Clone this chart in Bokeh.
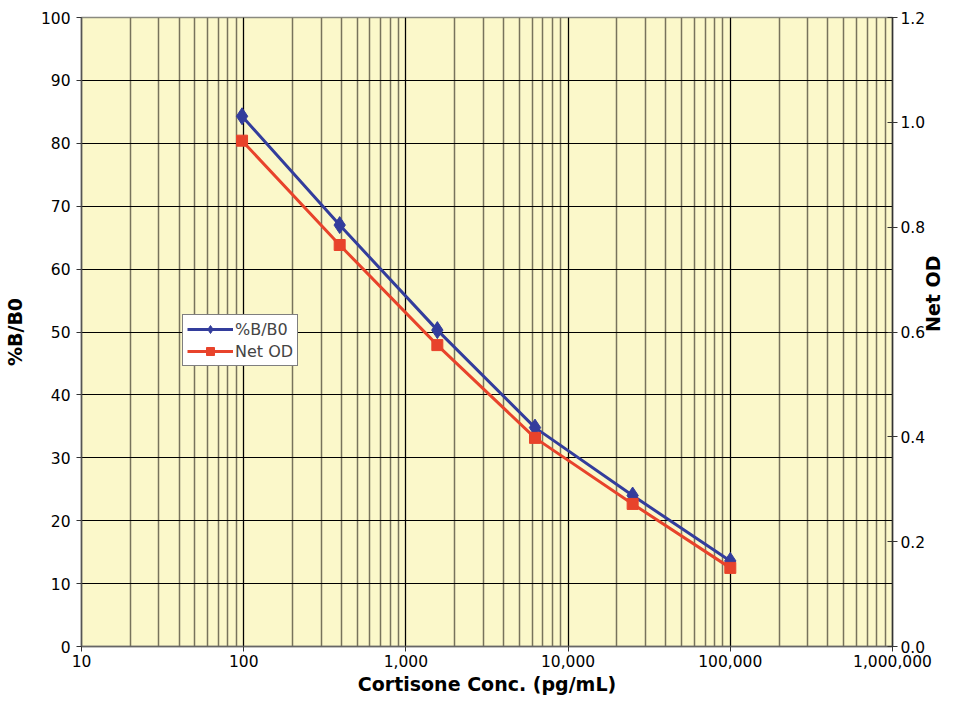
import math
from bokeh.plotting import figure
from bokeh.models import Range1d, LinearAxis, FixedTicker, NumeralTickFormatter, LogTicker, Legend, LegendItem
from bokeh.embed import file_html
from bokeh.resources import INLINE

# Data
conc = [97.7, 390.6, 1562.5, 6250, 25000, 100000]
pct_b_b0 = [84.3, 67.0, 50.3, 34.8, 24.0, 13.6]
net_od = [0.965, 0.766, 0.575, 0.398, 0.272, 0.150]

left_ticks = [0, 10, 20, 30, 40, 50, 60, 70, 80, 90, 100]
right_ticks = [0.0, 0.2, 0.4, 0.6, 0.8, 1.0, 1.2]

FONT = "DejaVu Sans"
BLUE = "#333D9C"
RED = "#E8432B"

p = figure(width=958, height=697, x_axis_type="log",
           x_range=Range1d(10, 1_000_000), y_range=Range1d(0, 100),
           output_backend="svg", toolbar_location=None,
           min_border_left=80, min_border_top=17, min_border_right=58, min_border_bottom=44,
           background_fill_color="#FBF8CA", border_fill_color="white")
p.outline_line_color = "#8a8a80"
p.outline_line_width = 1.5

p.extra_y_ranges = {"od": Range1d(0, 1.2)}

# grids
p.xgrid.ticker = LogTicker(num_minor_ticks=10)
p.xgrid.grid_line_color = "black"
p.xgrid.grid_line_width = 1
p.xgrid.minor_grid_line_color = "#77735c"
p.xgrid.minor_grid_line_width = 1.5
p.ygrid.ticker = FixedTicker(ticks=left_ticks)
p.ygrid.grid_line_color = "black"
p.ygrid.grid_line_width = 1

# x axis
xa = p.xaxis[0]
xa.ticker = LogTicker(num_minor_ticks=10)
xa.formatter = NumeralTickFormatter(format="0,0")
xa.axis_label = "Cortisone Conc. (pg/mL)"
xa.minor_tick_line_color = None
xa.major_tick_in = 0
xa.major_tick_out = 5
xa.axis_line_color = "#666666"
xa.axis_line_width = 1.5

# left axis
ya = p.yaxis[0]
ya.ticker = FixedTicker(ticks=left_ticks)
ya.axis_label = "%B/B0"
ya.minor_tick_line_color = None
ya.major_tick_in = 0
ya.major_tick_out = 5
ya.axis_line_color = "#555555"
ya.axis_line_width = 1.5

# right axis
ra = LinearAxis(y_range_name="od", axis_label="Net OD",
                ticker=FixedTicker(ticks=right_ticks),
                formatter=NumeralTickFormatter(format="0.0"))
ra.minor_tick_line_color = None
ra.major_tick_in = 5
ra.major_tick_out = 5
ra.axis_line_color = "#333333"
ra.axis_line_width = 1.5
ra.axis_label_orientation = math.pi / 2
p.add_layout(ra, "right")

for ax in [xa, ya, ra]:
    ax.major_label_text_font = FONT
    ax.major_label_text_font_size = "15.5px"
    ax.major_label_text_color = "black"
    ax.axis_label_text_font = FONT
    ax.axis_label_text_font_size = "19px"
    ax.axis_label_text_font_style = "bold"
    ax.axis_label_text_color = "black"
    ax.major_tick_line_color = "#333333"

xa.major_label_standoff = 3
xa.axis_label_standoff = 3
ya.major_label_standoff = 6
ya.axis_label_standoff = 12
ra.major_label_standoff = 3
ra.axis_label_standoff = 5

# series
l1 = p.line(conc, pct_b_b0, line_color=BLUE, line_width=3)
s1 = p.scatter(conc, pct_b_b0, marker="diamond", size=17, fill_color=BLUE, line_color=BLUE)
l2 = p.line(conc, net_od, line_color=RED, line_width=3, y_range_name="od")
s2 = p.scatter(conc, net_od, marker="square", size=11, fill_color=RED, line_color=RED, y_range_name="od")

legend = Legend(items=[LegendItem(label="%B/B0", renderers=[l1, s1]),
                       LegendItem(label="Net OD", renderers=[l2, s2])],
                location=(101, 280))
legend.label_text_font = FONT
legend.label_text_font_size = "16px"
legend.border_line_color = "black"
legend.border_line_width = 1.5
legend.background_fill_color = "white"
legend.background_fill_alpha = 1
legend.padding = 4
legend.spacing = 2
legend.margin = 0
legend.glyph_width = 46
legend.label_standoff = 2
p.add_layout(legend, "center")

open("out.html", "w").write(file_html(p, INLINE))
